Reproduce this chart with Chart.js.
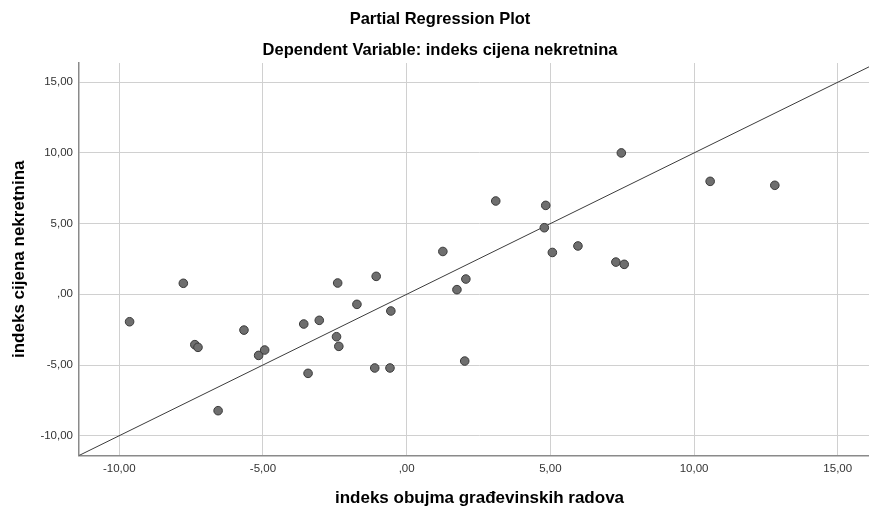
<!DOCTYPE html>
<html>
<head>
<meta charset="utf-8">
<script src="https://cdn.jsdelivr.net/npm/chart.js@4.4.0/dist/chart.umd.min.js"></script>
<style>
    html, body { margin: 0; padding: 0; background: #fff; overflow: hidden; }
    #wrap { width: 869px; height: 511px; overflow: hidden; position: relative; }
    #plot { display: block; }
</style>
</head>
<body>
<div id="wrap"><canvas id="plot" width="880" height="511"></canvas></div>
<script>
// residuals of the partial regression (x: indeks obujma, y: indeks cijena)
const xValues = [-9.64, -7.77, -7.37, -7.26, -6.56, -5.66, -5.15, -4.94, -3.58, -3.04, -2.40,
    -2.44, -2.36, -3.43, -1.73, -1.06, -0.55, -1.11, -0.58, 1.26, 2.06, 1.75, 2.02, 5.07,
    3.10, 4.84, 4.79, 5.96, 7.47, 10.56, 12.81, 7.28, 7.57];
const yValues = [-1.94, 0.78, -3.56, -3.75, -8.23, -2.53, -4.32, -3.94, -2.10, -1.84, 0.80,
    -3.00, -3.68, -5.59, -0.71, 1.27, -1.18, -5.21, -5.21, 3.03, 1.08, 0.33, -4.72, 2.96,
    6.60, 6.29, 4.71, 3.42, 10.00, 7.99, 7.71, 2.28, 2.12];
const xTicks = [-10, -5, 0, 5, 10, 15];
const yTicks = [-10, -5, 0, 5, 10, 15];
const fitSlope = 1.0;
const fitIntercept = 0.0;
const xMin = -11.40, xMax = 16.47;
const yMin = -11.40, yMax = 16.36;

const fontFamily = '"Liberation Sans", Arial, sans-serif';

function fmt(v) {
    let s = v.toFixed(2).replace('.', ',');
    if (s === '0,00') s = ',00';
    return s;
}

const points = xValues.map((x, i) => ({ x: x, y: yValues[i] }));
const fitLine = [xMin, xMax].map(x => ({ x: x, y: fitIntercept + fitSlope * x }));

new Chart(document.getElementById('plot').getContext('2d'), {
    type: 'scatter',
    data: {
        datasets: [{
            data: points,
            order: 0,
            pointRadius: 4.3,
            pointBorderWidth: 1,
            backgroundColor: '#6e6e6e',
            borderColor: '#3a3a3a'
        }, {
            type: 'line',
            data: fitLine,
            order: 1,
            borderColor: '#3c3c3c',
            borderWidth: 1,
            pointRadius: 0,
            fill: false
        }]
    },
    options: {
        responsive: false,
        animation: false,
        layout: { padding: 0, autoPadding: false },
        plugins: {
            legend: { display: false },
            tooltip: { enabled: false },
            title: {
                display: true,
                text: 'Partial Regression Plot',
                color: '#000',
                font: { family: fontFamily, size: 16.5, weight: 'bold' },
                padding: { top: 9.5, bottom: 10.8 }
            },
            subtitle: {
                display: true,
                text: 'Dependent Variable: indeks cijena nekretnina',
                color: '#000',
                font: { family: fontFamily, size: 16.5, weight: 'bold' },
                padding: { top: 0, bottom: 3.1 }
            }
        },
        scales: {
            x: {
                type: 'linear',
                min: xMin,
                max: xMax,
                afterBuildTicks: scale => { scale.ticks = xTicks.map(v => ({ value: v })); },
                afterFit: scale => { scale.height = 55.5; },
                ticks: {
                    callback: v => fmt(v),
                    color: '#333',
                    padding: 6,
                    maxRotation: 0,
                    font: { family: fontFamily, size: 11.5 }
                },
                grid: { color: '#d0d0d0', lineWidth: 1, drawTicks: false },
                border: { color: '#8a8a8a', width: 1.5 },
                title: {
                    display: true,
                    text: 'indeks obujma građevinskih radova',
                    color: '#000',
                    font: { family: fontFamily, size: 17, weight: 'bold' },
                    padding: { top: 0, bottom: 2 }
                }
            },
            y: {
                type: 'linear',
                min: yMin,
                max: yMax,
                afterBuildTicks: scale => { scale.ticks = yTicks.map(v => ({ value: v })); },
                afterFit: scale => { scale.width = 79; },
                ticks: {
                    callback: v => fmt(v),
                    color: '#333',
                    padding: 6,
                    font: { family: fontFamily, size: 11.5 }
                },
                grid: { color: '#d0d0d0', lineWidth: 1, drawTicks: false },
                border: { color: '#8a8a8a', width: 1.5 },
                title: {
                    display: true,
                    text: 'indeks cijena nekretnina',
                    color: '#000',
                    font: { family: fontFamily, size: 17, weight: 'bold' },
                    padding: { top: 9, bottom: 0 }
                }
            }
        }
    }
});
</script>
</body>
</html>
